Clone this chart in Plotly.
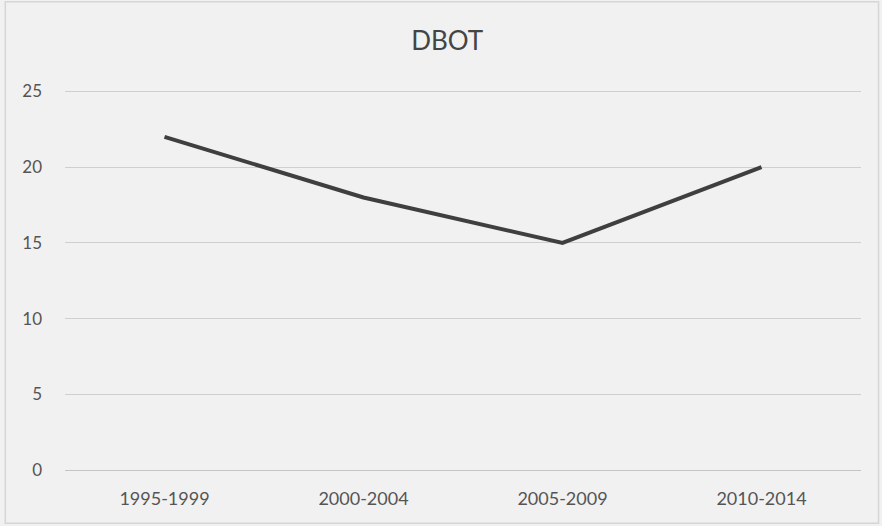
import plotly.graph_objects as go

periods = ["1995-1999", "2000-2004", "2005-2009", "2010-2014"]
dbot = [22, 18, 15, 20]
y_ticks = [0, 5, 10, 15, 20, 25]

fig = go.Figure()
fig.add_trace(go.Scatter(
    x=periods, y=dbot, mode="lines",
    line=dict(color="#3f3f3f", width=4),
    showlegend=False, hoverinfo="x+y",
))

font_family = "Lato, 'Open Sans', sans-serif"
y_top = 25.1
fig.update_layout(
    width=882, height=526,
    margin=dict(l=65, r=21, t=90, b=56),
    paper_bgcolor="#f1f1f1",
    plot_bgcolor="#f1f1f1",
    font=dict(family=font_family, color="#555555", size=17),
    title=dict(text="DBOT", x=0.507, xanchor="center", y=0.922, yanchor="middle",
               font=dict(size=26, color="#444444", family=font_family)),
    xaxis=dict(range=[-0.5, 3.5], showgrid=False, showline=False, zeroline=False,
               ticks="", ticklabelstandoff=16,
               tickfont=dict(size=18, color="#555555"), fixedrange=True),
    yaxis=dict(range=[0, y_top], tickvals=y_ticks, showgrid=True, gridcolor="#cfcfcf",
               gridwidth=1, zeroline=True, zerolinecolor="#c4c4c4", zerolinewidth=1,
               showline=False, ticks="", ticklabelstandoff=22,
               tickfont=dict(size=17, color="#555555"), fixedrange=True),
    shapes=[dict(type="rect", xref="paper", yref="paper",
                 x0=-0.075, x1=1.022, y0=-0.14, y1=1.232,
                 line=dict(color="#d6d6d6", width=1.5), fillcolor="rgba(0,0,0,0)",
                 layer="below")],
)

fig.write_html("out.html")
